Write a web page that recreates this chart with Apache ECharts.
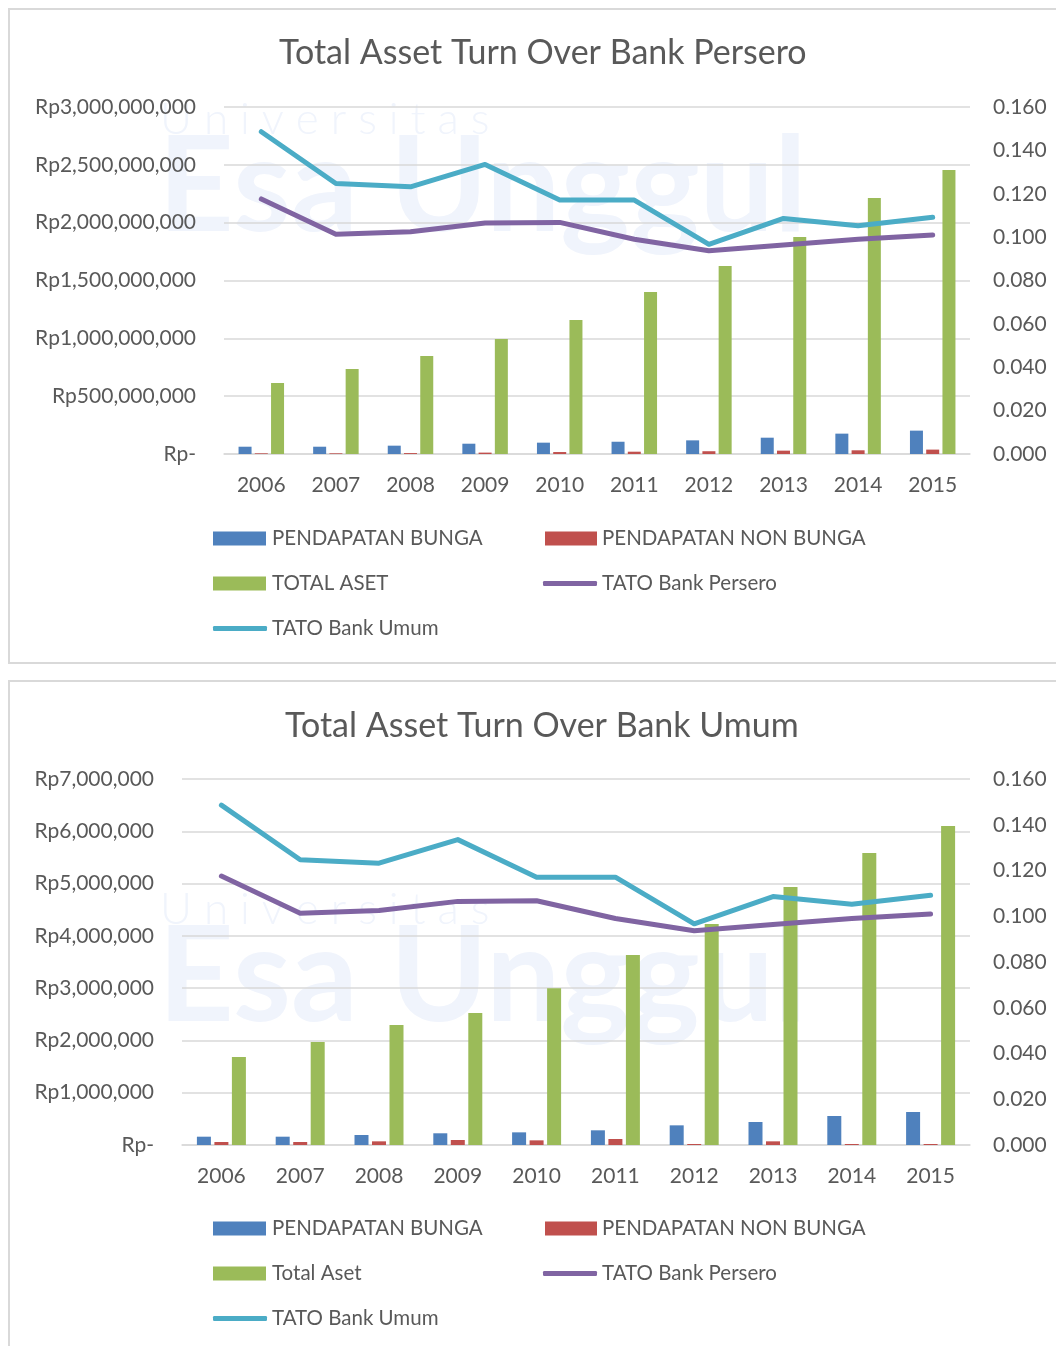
<!DOCTYPE html>
<html>
<head>
<meta charset="utf-8">
<script src="https://cdn.jsdelivr.net/npm/echarts@6/dist/echarts.min.js"></script>
<style>
html,body{margin:0;padding:0;background:#fff;}
#c{width:1056px;height:1346px;}
</style>
</head>
<body>
<div id="c"></div>
<script>
// ---- data ----
const years = ['2006','2007','2008','2009','2010','2011','2012','2013','2014','2015'];

// Chart 1: Bank Persero (Rupiah)
const perseroBunga    = [63000000, 63000000, 72000000, 89000000, 98000000, 106000000, 118000000, 141000000, 176000000, 202000000];
const perseroNonBunga = [6000000, 6000000, 8000000, 12000000, 17000000, 20000000, 24000000, 29000000, 32000000, 38000000];
const perseroAset     = [614000000, 735000000, 847000000, 994000000, 1158000000, 1401000000, 1625000000, 1876000000, 2213000000, 2455000000];

// Chart 2: Bank Umum (Rupiah)
const umumBunga    = [159000, 159000, 191000, 224000, 242000, 281000, 376000, 440000, 555000, 631000];
const umumNonBunga = [57000, 57000, 70000, 96000, 89000, 115000, 19000, 70000, 19000, 19000];
const umumAset     = [1683000, 1970000, 2295000, 2525000, 3000000, 3634000, 4227000, 4934000, 5585000, 6100000];

// TATO ratios (same in both charts)
const tatoPersero = [0.1176, 0.1013, 0.1025, 0.1065, 0.1068, 0.0990, 0.0937, 0.0964, 0.0990, 0.1010];
const tatoUmum    = [0.1486, 0.1247, 0.1232, 0.1335, 0.1171, 0.1171, 0.0967, 0.1086, 0.1052, 0.1092];

const titles = ['Total Asset Turn Over Bank Persero', 'Total Asset Turn Over Bank Umum'];
const legendNames1 = ['PENDAPATAN BUNGA', 'PENDAPATAN NON BUNGA', 'TOTAL ASET', 'TATO Bank Persero', 'TATO Bank Umum'];
const legendNames2 = ['PENDAPATAN BUNGA', 'PENDAPATAN NON BUNGA', 'Total Aset', 'TATO Bank Persero', 'TATO Bank Umum'];

// ---- styling ----
const FONT = 'Lato, "Open Sans", sans-serif';
const TXT = '#595959';
const GRID = '#d9d9d9';
const C_BLUE = '#4f81bd', C_RED = '#c0504d', C_GREEN = '#9bbb59', C_PURPLE = '#8064a2', C_CYAN = '#4bacc6';

function rp(v){
  if (v === 0) return 'Rp-';
  return 'Rp' + v.toString().replace(/\B(?=(\d{3})+(?!\d))/g, ',');
}

function legendItem(name, left, rowY, isLine, w, padL){
  return {
    data: [name], left: left, top: rowY - 11, padding: 0,
    itemWidth: w, itemHeight: isLine ? 5 : 14,
    icon: isLine ? 'roundRect' : 'rect',
    itemGap: 0,
    textStyle: {fontFamily: FONT, fontSize: 20.5, color: TXT, padding: [0, 0, 0, padL]},
    selectedMode: false
  };
}

function makeLegends(names, y0){
  return [
    legendItem(names[0], 213, y0, false, 53, 1),
    legendItem(names[1], 545, y0, false, 52, 0),
    legendItem(names[2], 213, y0 + 45, false, 53, 1),
    legendItem(names[3], 543, y0 + 45, true, 54, 0),
    legendItem(names[4], 213, y0 + 90, true, 54, 0)
  ];
}

function xAxisCfg(gi){
  return {
    type: 'category', data: years, gridIndex: gi,
    axisLine: {lineStyle: {color: GRID, width: 1.5}},
    axisTick: {show: false},
    axisLabel: {fontFamily: FONT, fontSize: 21, color: TXT, margin: 21}
  };
}

function yLeft(gi, max, interval){
  return {
    type: 'value', gridIndex: gi, min: 0, max: max, interval: interval,
    axisLine: {show: false}, axisTick: {show: false},
    splitLine: {lineStyle: {color: GRID, width: 1.5}},
    axisLabel: {fontFamily: FONT, fontSize: 21, color: TXT, margin: 28, formatter: rp}
  };
}

function yRight(gi){
  return {
    type: 'value', gridIndex: gi, position: 'right', min: 0, max: 0.16, interval: 0.02,
    axisLine: {show: false}, axisTick: {show: false}, splitLine: {show: false},
    axisLabel: {fontFamily: FONT, fontSize: 21, color: TXT, margin: 23, formatter: v => v.toFixed(3)}
  };
}

function seriesSet(gi, names, bunga, nonBunga, aset, barW){
  const xi = gi, yl = gi * 2, yr = gi * 2 + 1;
  const bar = (name, data, color) => ({
    type: 'bar', name: name, data: data, xAxisIndex: xi, yAxisIndex: yl,
    barWidth: barW, barGap: '25%', color: color, itemStyle: {color: color}, z: 2
  });
  const line = (name, data, color) => ({
    type: 'line', name: name, data: data, xAxisIndex: xi, yAxisIndex: yr,
    symbol: 'none', color: color, itemStyle: {color: color},
    lineStyle: {color: color, width: 5, cap: 'round', join: 'round'}, z: 3
  });
  return [
    bar(names[0], bunga, C_BLUE),
    bar(names[1], nonBunga, C_RED),
    bar(names[2], aset, C_GREEN),
    line(names[3], tatoPersero, C_PURPLE),
    line(names[4], tatoUmum, C_CYAN)
  ];
}

function watermark(y){
  return [
    {type: 'text', left: 160, top: y, z: -1, silent: true,
     style: {text: 'U n i v e r s i t a s', font: '300 44px ' + FONT, fill: '#f0f4fc'}},
    {type: 'text', left: 158, top: y + 24, z: -1, silent: true,
     style: {text: 'Esa Unggul', font: 'bold 132px ' + FONT, fill: '#f0f4fc'}}
  ];
}

const chart = echarts.init(document.getElementById('c'), null, {renderer: 'canvas'});
chart.setOption({
  animation: false,
  backgroundColor: '#ffffff',
  title: [
    {text: titles[0], left: 274, top: 31, textStyle: {fontFamily: FONT, fontWeight: 'normal', fontSize: 34, color: TXT}},
    {text: titles[1], left: 280, top: 704, textStyle: {fontFamily: FONT, fontWeight: 'normal', fontSize: 34, color: TXT}}
  ],
  graphic: [
    {type: 'rect', z: -2, silent: true, shape: {x: 9, y: 9, width: 1060, height: 654}, style: {fill: 'none', stroke: '#d9d9d9', lineWidth: 2}},
    {type: 'rect', z: -2, silent: true, shape: {x: 9, y: 681, width: 1060, height: 700}, style: {fill: 'none', stroke: '#d9d9d9', lineWidth: 2}}
  ].concat(watermark(98), watermark(888)),
  legend: makeLegends(legendNames1, 539).concat(makeLegends(legendNames2, 1229)),
  grid: [
    {left: 224, right: 86, top: 107, height: 347, containLabel: false},
    {left: 182, right: 86, top: 779, height: 366, containLabel: false}
  ],
  xAxis: [xAxisCfg(0), xAxisCfg(1)],
  yAxis: [yLeft(0, 3000000000, 500000000), yRight(0), yLeft(1, 7000000, 1000000), yRight(1)],
  series: seriesSet(0, legendNames1, perseroBunga, perseroNonBunga, perseroAset, 13)
    .concat(seriesSet(1, legendNames2, umumBunga, umumNonBunga, umumAset, 14))
});
</script>
</body>
</html>
